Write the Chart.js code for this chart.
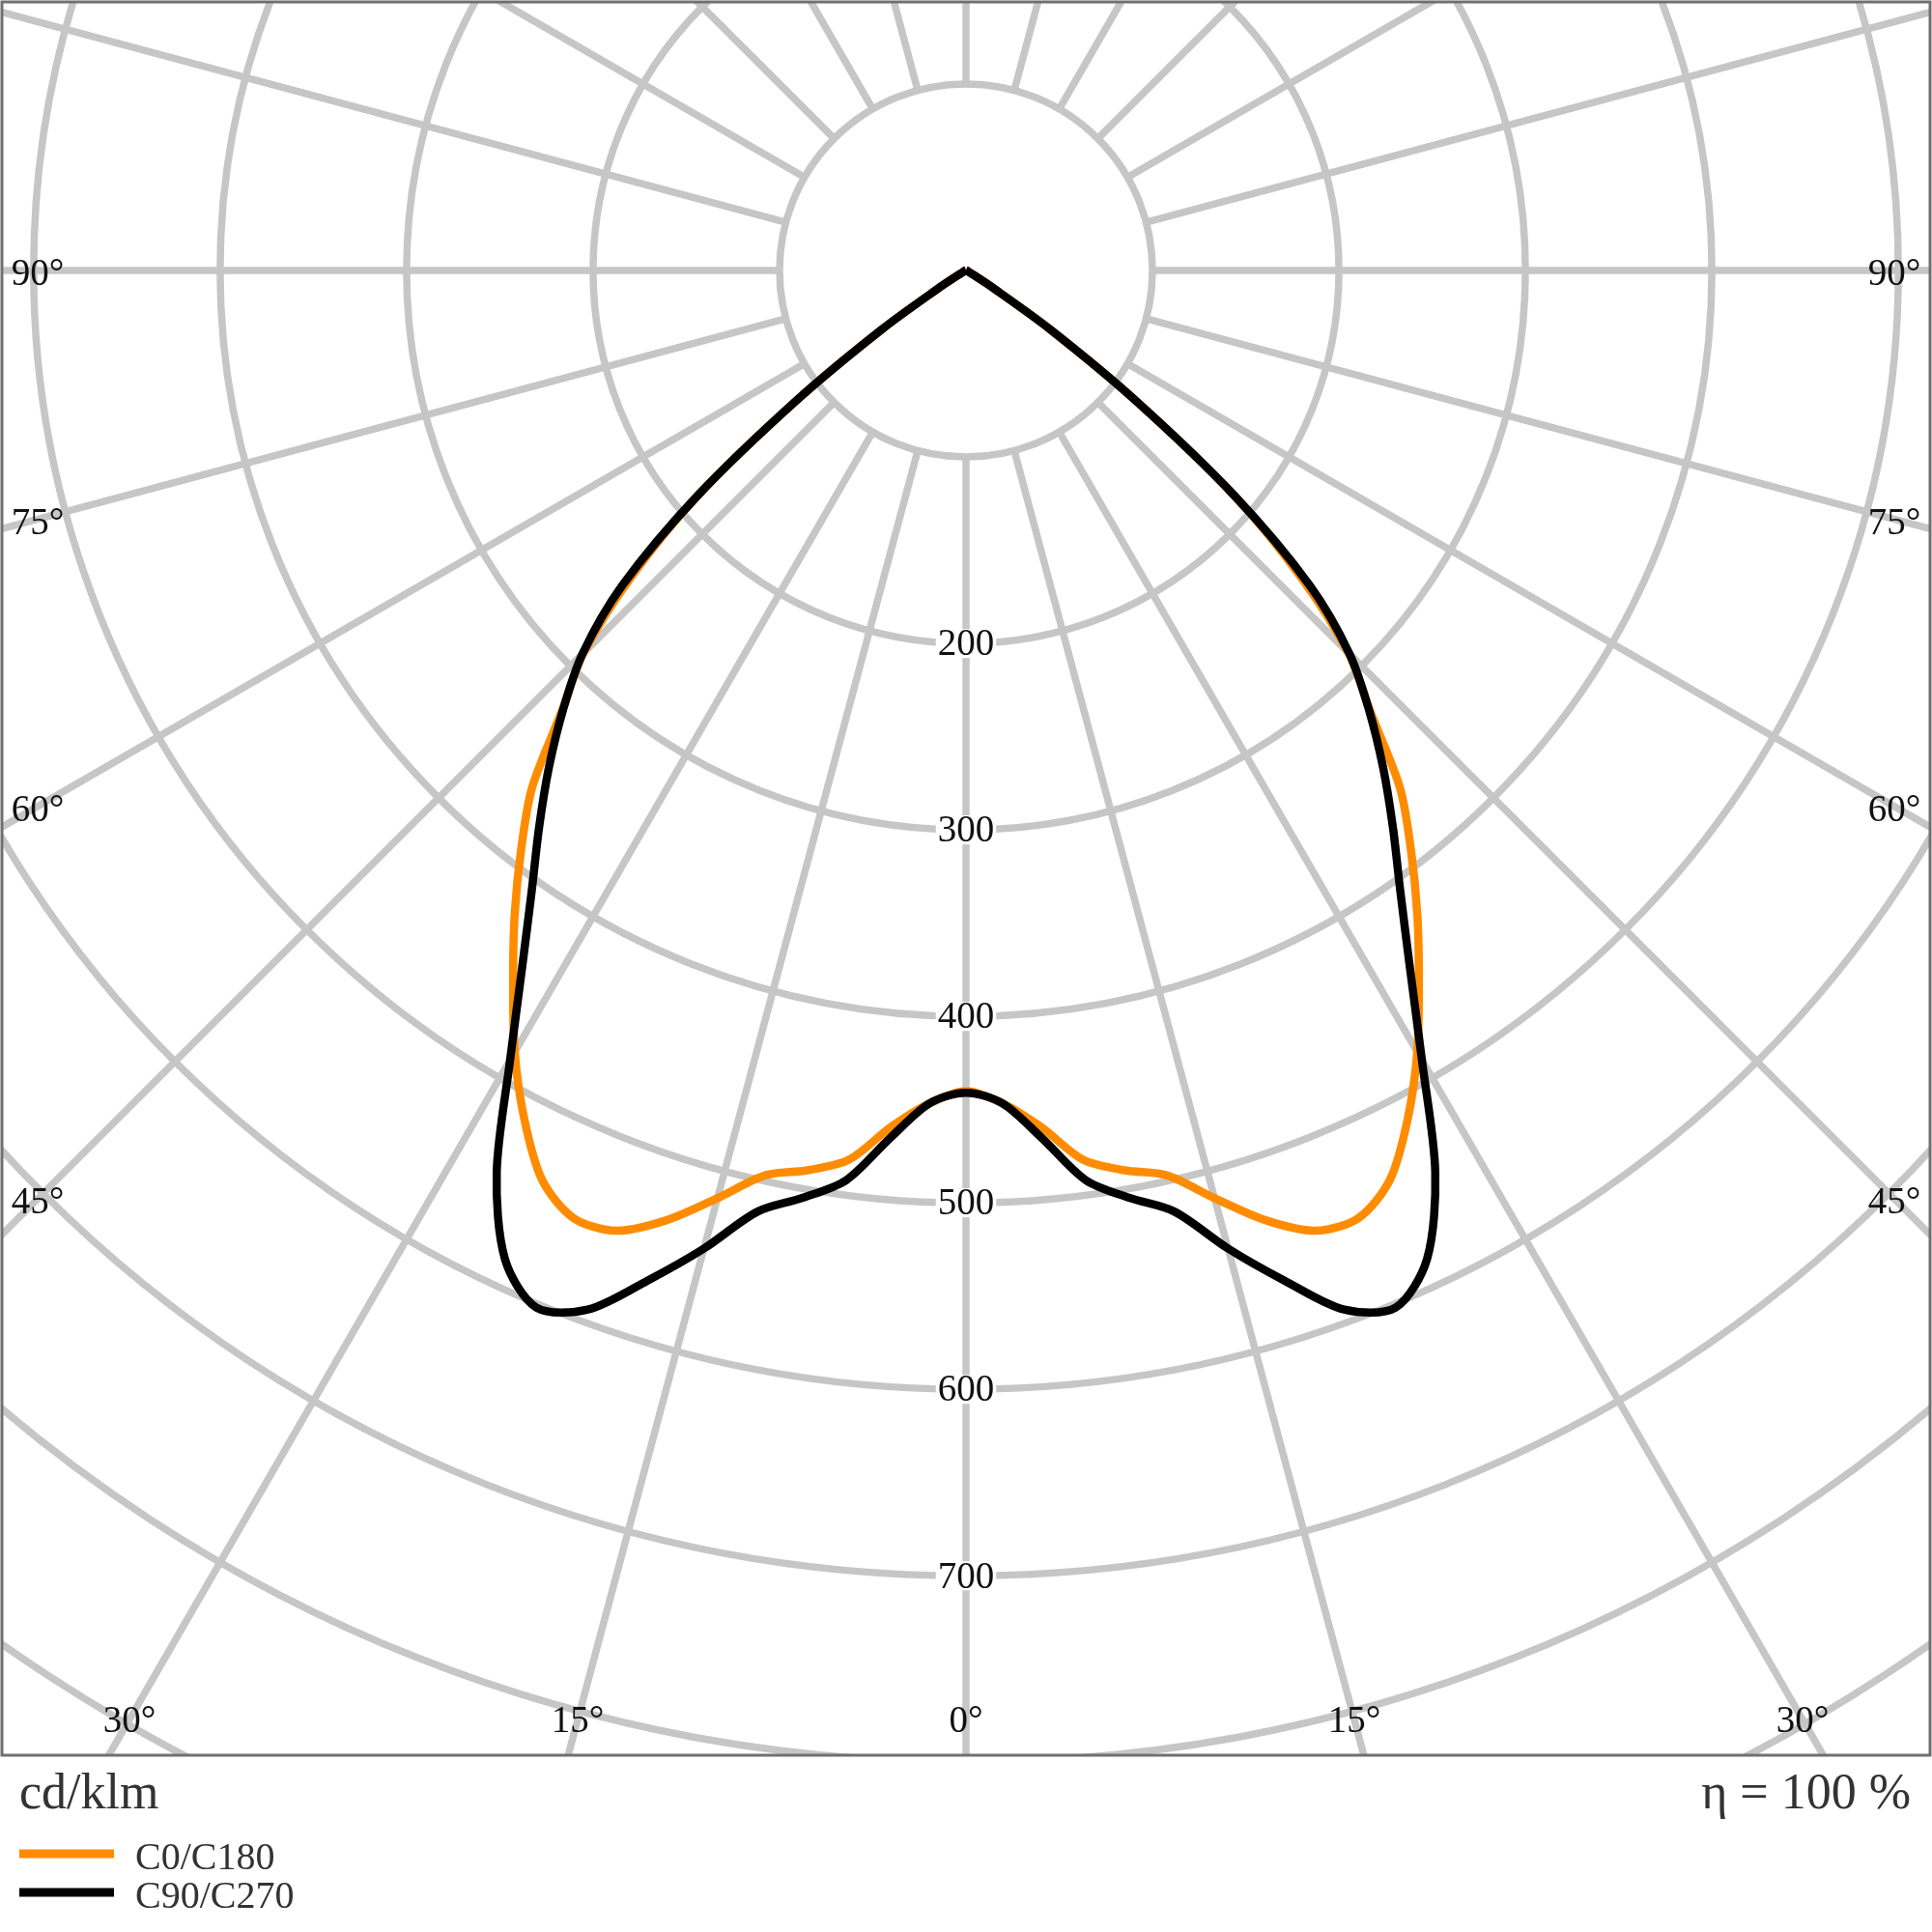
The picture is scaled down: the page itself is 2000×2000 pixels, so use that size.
<!DOCTYPE html>
<html>
<head>
<meta charset="utf-8">
<script src="https://cdn.jsdelivr.net/npm/chart.js@4/dist/chart.umd.min.js"></script>
<style>
  html, body { margin: 0; padding: 0; background: #fff; }
  #wrap { width: 2000px; height: 2000px; position: relative; }
</style>
</head>
<body>
<div id="wrap"><canvas id="ldc"></canvas></div>
<script>
// gamma angles (deg from nadir) and luminous intensity in cd/klm
const gammaAngles = [0, 2.5, 5, 7.5, 10, 12.5, 15, 17.5, 20, 22.5, 25, 27.5, 30, 32.5, 35, 37.5, 40, 42.5, 45,
  47.5, 50, 52.5, 55, 57.5, 60, 62.5, 65, 67.5, 70, 72.5, 75, 77.5, 80, 82.5, 85, 87.5, 90];
const c0c180 = [440, 447, 461, 481, 490, 497, 515, 534, 548, 550, 538, 513, 484, 452, 422, 392, 362, 321, 290,
  244, 188, 115, 55, 15, 4, 2, 1, 1, 1, 1, 0, 0, 0, 0, 0, 0, 0];
const c90c270 = [441, 447, 467, 492, 505, 517, 543, 568, 593, 602, 585, 545, 489, 443, 406, 376, 348, 320, 291,
  250, 188, 115, 55, 15, 4, 2, 1, 1, 1, 1, 0, 0, 0, 0, 0, 0, 0];

const ringValues = [100, 200, 300, 400, 500, 600, 700, 800, 900];
const ringLabels = [200, 300, 400, 500, 600, 700];
const angleLabels = [0, 15, 30, 45, 60, 75, 90];
const seriesNames = ["C0/C180", "C90/C270"];
const seriesColors = ["#ff8c00", "#000000"];
const unitText = "cd/klm";
const etaText = "η = 100 %";

const SERIF = "'Liberation Serif', 'Times New Roman', serif";

// mirror one half-plane curve into a full outline (left side = C180/C270, right = C0/C90)
function outline(values) {
  const pts = [];
  for (let i = values.length - 1; i >= 0; i--) {
    const t = gammaAngles[i] * Math.PI / 180;
    pts.push({ x: -values[i] * Math.sin(t), y: -values[i] * Math.cos(t) });
  }
  for (let i = 1; i < values.length; i++) {
    const t = gammaAngles[i] * Math.PI / 180;
    pts.push({ x: values[i] * Math.sin(t), y: -values[i] * Math.cos(t) });
  }
  return pts;
}

const polarFrame = {
  id: "polarFrame",
  beforeDatasetsDraw(chart) {
    const { ctx, chartArea: a, scales: { x, y } } = chart;
    const cx = x.getPixelForValue(0), cy = y.getPixelForValue(0);
    const rad = v => x.getPixelForValue(v) - cx;
    ctx.save();
    ctx.beginPath();
    ctx.rect(a.left, a.top, a.right - a.left, a.bottom - a.top);
    ctx.clip();
    ctx.strokeStyle = "#c6c6c6";
    ctx.lineWidth = 7.5;
    ringValues.forEach(v => {
      ctx.beginPath();
      ctx.arc(cx, cy, rad(v), 0, Math.PI * 2);
      ctx.stroke();
    });
    const r0 = rad(ringValues[0]), r1 = rad(1200);
    for (let d = 0; d < 360; d += 15) {
      const t = d * Math.PI / 180;
      ctx.beginPath();
      ctx.moveTo(cx + r0 * Math.sin(t), cy + r0 * Math.cos(t));
      ctx.lineTo(cx + r1 * Math.sin(t), cy + r1 * Math.cos(t));
      ctx.stroke();
    }
    // ring value labels along the nadir axis
    ctx.font = "39px " + SERIF;
    ctx.textAlign = "center";
    ctx.textBaseline = "middle";
    ringLabels.forEach(v => {
      const py = y.getPixelForValue(-v);
      const w = ctx.measureText(String(v)).width;
      ctx.fillStyle = "#fff";
      ctx.fillRect(cx - w / 2 - 2, py - 15, w + 4, 30);
      ctx.fillStyle = "#111";
      ctx.fillText(String(v), cx, py + 2);
    });
    ctx.restore();
  },
  afterDraw(chart) {
    const { ctx, chartArea: a, scales: { x, y } } = chart;
    const cx = x.getPixelForValue(0), cy = y.getPixelForValue(0);
    ctx.save();
    // angle labels where spokes meet the frame
    ctx.font = "39px " + SERIF;
    ctx.fillStyle = "#111";
    ctx.textAlign = "center";
    ctx.textBaseline = "middle";
    const inset = 37;
    angleLabels.forEach(d => {
      const t = d * Math.PI / 180;
      const sideDx = cx - (a.left + inset);
      const yHit = d === 0 ? Infinity : cy + sideDx / Math.tan(t);
      const bottomY = a.bottom - inset;
      if (yHit < bottomY) {
        ctx.fillText(d + "°", a.left + inset, yHit + 5);
        ctx.fillText(d + "°", a.right - inset, yHit + 5);
      } else {
        const dx = (bottomY - cy) * Math.tan(t);
        ctx.fillText(d + "°", cx - dx, bottomY + 3);
        if (d !== 0) ctx.fillText(d + "°", cx + dx, bottomY + 3);
      }
    });
    // frame
    ctx.strokeStyle = "#707070";
    ctx.lineWidth = 3;
    ctx.strokeRect(a.left, a.top, a.right - a.left, a.bottom - a.top);
    // unit and efficiency
    ctx.fillStyle = "#333";
    ctx.font = "52px " + SERIF;
    ctx.textBaseline = "alphabetic";
    ctx.textAlign = "left";
    ctx.fillText(unitText, 20, 1872);
    ctx.textAlign = "right";
    ctx.fillText(etaText, 1978, 1872);
    // legend
    ctx.font = "40px " + SERIF;
    ctx.textAlign = "left";
    seriesNames.forEach((name, i) => {
      const ly = 1919 + i * 40;
      ctx.strokeStyle = seriesColors[i];
      ctx.lineWidth = 9;
      ctx.beginPath();
      ctx.moveTo(20, ly);
      ctx.lineTo(118, ly);
      ctx.stroke();
      ctx.fillStyle = "#333";
      ctx.fillText(name, 140, ly + 16);
    });
    ctx.restore();
  }
};

new Chart(document.getElementById("ldc"), {
  type: "scatter",
  data: {
    datasets: [
      {
        label: seriesNames[0],
        data: outline(c0c180),
        borderColor: seriesColors[0],
        borderWidth: 8.5,
        showLine: true,
        pointRadius: 0,
        tension: 0.3,
        order: 1
      },
      {
        label: seriesNames[1],
        data: outline(c90c270),
        borderColor: seriesColors[1],
        borderWidth: 8.5,
        showLine: true,
        pointRadius: 0,
        tension: 0.3,
        order: 0
      }
    ]
  },
  options: {
    responsive: true,
    maintainAspectRatio: false,
    animation: false,
    layout: { padding: { left: 2, right: 2, top: 2, bottom: 183 } },
    scales: {
      x: { type: "linear", display: false, min: -517, max: 517 },
      y: { type: "linear", display: false, min: -796.2, max: 144 }
    },
    plugins: {
      legend: { display: false },
      tooltip: { enabled: false }
    }
  },
  plugins: [polarFrame]
});
</script>
</body>
</html>
